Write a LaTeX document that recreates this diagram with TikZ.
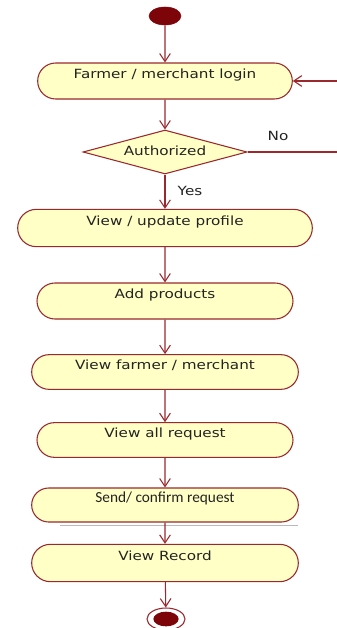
\documentclass[tikz,border=0pt]{standalone}
\usepackage{fontspec}
\usetikzlibrary{shapes.misc,shapes.geometric,arrows.meta}

\newfontfamily\uifont[FakeStretch=1.2]{DejaVu Sans}
\newfontfamily\califont{Carlito}

\definecolor{umlred}{RGB}{155,40,45}
\definecolor{umlfill}{RGB}{255,255,198}
\definecolor{dotred}{RGB}{125,5,10}
\definecolor{umltext}{RGB}{35,35,35}

\tikzset{
  flow/.style={draw=umlred,line width=0.8pt,-{Straight Barb[length=6pt,width=8pt]}}
}

\begin{document}
\begin{tikzpicture}[x=0.75pt,y=-0.75pt]
        \useasboundingbox (0,0) rectangle (336,628);

        % start and end
        \node[ellipse,draw=dotred,fill=dotred,minimum width=24pt,minimum height=13.5pt,inner sep=0pt] (0) at (165,16) {};
        \node[ellipse,draw=umlred,fill=white,line width=0.8pt,minimum width=28.5pt,minimum height=16.5pt,inner sep=0pt] (9) at (166,619) {};
        \node[ellipse,fill=dotred,minimum width=19pt,minimum height=11pt,inner sep=0pt] (9i) at (9) {};

        \begin{scope}[every node/.style={rounded rectangle,draw=umlred,fill=umlfill,line width=0.8pt,inner sep=0pt,
            text height=7pt,text depth=10.5pt,text=umltext,font=\uifont\fontsize{9.5}{11}\selectfont}]
          \node[minimum width=191pt,minimum height=27pt]   (1) at (165,81)  {Farmer / merchant login};
          \node[minimum width=221pt,minimum height=28pt]   (3) at (165,228) {View / update profile};
          \node[minimum width=192pt,minimum height=27pt]   (4) at (165,301) {Add products};
          \node[minimum width=200pt,minimum height=26pt]   (5) at (165,372) {View farmer / merchant};
          \node[minimum width=192pt,minimum height=26pt]   (6) at (165,440) {View all request};
          \node[minimum width=200pt,minimum height=25.5pt,font=\califont\fontsize{11.5}{13}\selectfont]
                                                           (7) at (165,505) {Send/ confirm request};
          \node[minimum width=200pt,minimum height=28pt]   (8) at (165,563) {View Record};
          \node[diamond,aspect=3.7,minimum width=123pt,minimum height=33pt,text depth=2pt]
                                                           (2) at (165,152) {Authorized};
        \end{scope}

        % shadow line under the send box
        \draw[gray!55,line width=0.6pt] (60,525) -- (298,525);

        \begin{scope}[every node/.style={text=umltext,font=\uifont\fontsize{9.5}{11}\selectfont}]
          \node (no)  at (278,136) {No};
          \node (yes) at (190,191) {Yes};
        \end{scope}

        \coordinate (back) at (345,152);

        \begin{scope}[every edge/.style={flow}]
          \path (0) edge (1);
          \path (1) edge (2);
          \path (2) edge (3);
          \path (3) edge (4);
          \path (4) edge (5);
          \path (5) edge (6);
          \path (6) edge (7);
          \path (7) edge (8);
          \path (8) edge (9);
        \end{scope}

        \draw[flow] (2.east) -- (back) |- (1.east);

      \end{tikzpicture}
\end{document}
